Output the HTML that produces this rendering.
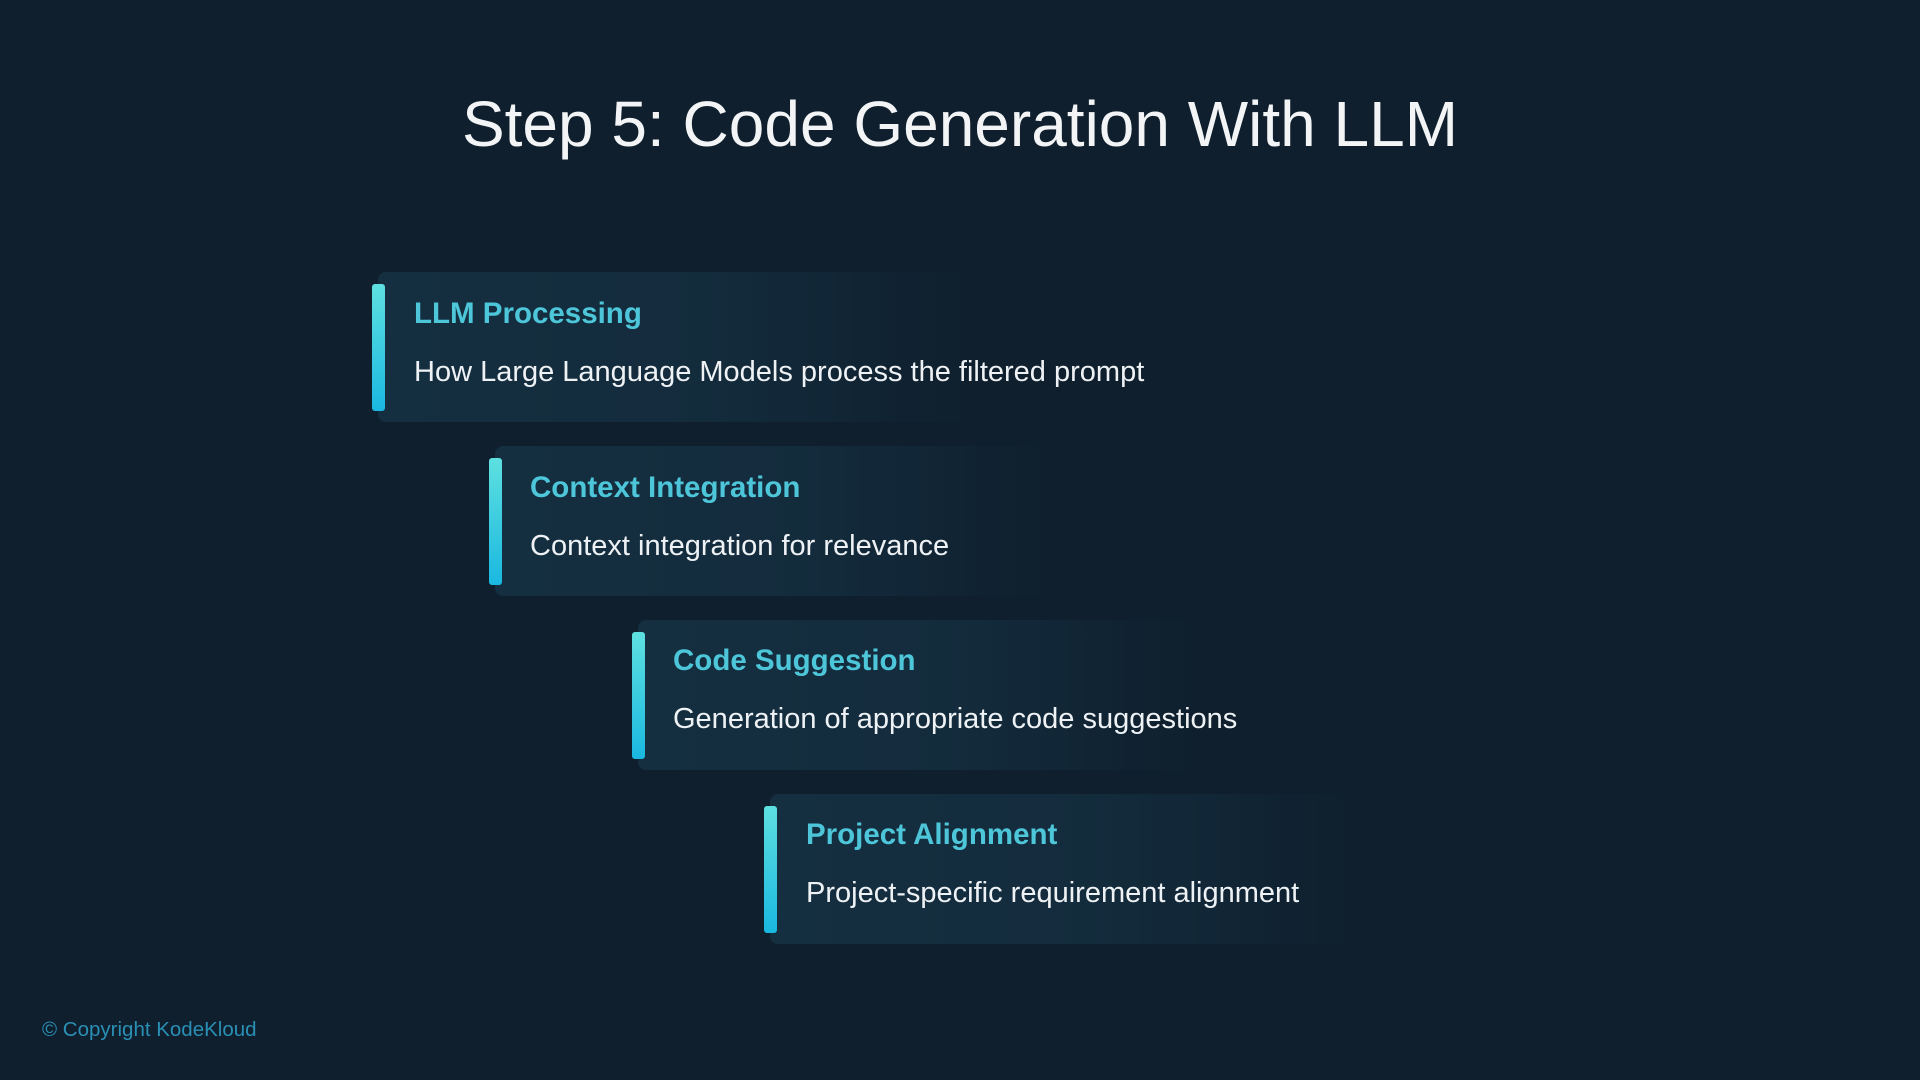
<!DOCTYPE html>
<html><head><meta charset="utf-8"><style>
html,body{margin:0;padding:0}
body{width:1920px;height:1080px;background:#0f1f2d;position:relative;overflow:hidden;font-family:"Liberation Sans",sans-serif}
.title{position:absolute;left:0;width:1920px;top:86px;text-align:center;color:#f2f4f6;font-size:64px;line-height:76px}
.card{position:absolute;height:150px;border-radius:8px;background:linear-gradient(90deg,rgba(21,48,66,0.95) 0%,rgba(20,46,63,0.85) 55%,rgba(18,42,60,0.4) 85%,rgba(15,31,45,0) 100%)}
.bar{position:absolute;width:13px;height:127px;border-radius:3px;background:linear-gradient(180deg,#5ee0e0,#1ab8e0)}
.h{position:absolute;color:#4ec6da;font-weight:bold;font-size:29.5px;white-space:nowrap}
.d{position:absolute;color:#eef2f5;font-size:29px;white-space:nowrap}
.copy{position:absolute;left:42px;top:1018px;color:#2a8fb5;font-size:20.5px}
</style></head><body>
<div class="title">Step 5: Code Generation With LLM</div>

<div class="card" style="left:378px;top:272px;width:590px"></div>
<div class="bar" style="left:372px;top:284px"></div>
<div class="h" style="left:414px;top:297px">LLM Processing</div>
<div class="d" style="left:414px;top:356px">How Large Language Models process the filtered prompt</div>

<div class="card" style="left:495px;top:446px;width:550px"></div>
<div class="bar" style="left:489px;top:458px"></div>
<div class="h" style="left:530px;top:471px">Context Integration</div>
<div class="d" style="left:530px;top:530px">Context integration for relevance</div>

<div class="card" style="left:638px;top:620px;width:555px"></div>
<div class="bar" style="left:632px;top:632px"></div>
<div class="h" style="left:673px;top:644px">Code Suggestion</div>
<div class="d" style="left:673px;top:703px">Generation of appropriate code suggestions</div>

<div class="card" style="left:770px;top:794px;width:580px"></div>
<div class="bar" style="left:764px;top:806px"></div>
<div class="h" style="left:806px;top:818px">Project Alignment</div>
<div class="d" style="left:806px;top:877px">Project-specific requirement alignment</div>

<div class="copy">© Copyright KodeKloud</div>
</body></html>
